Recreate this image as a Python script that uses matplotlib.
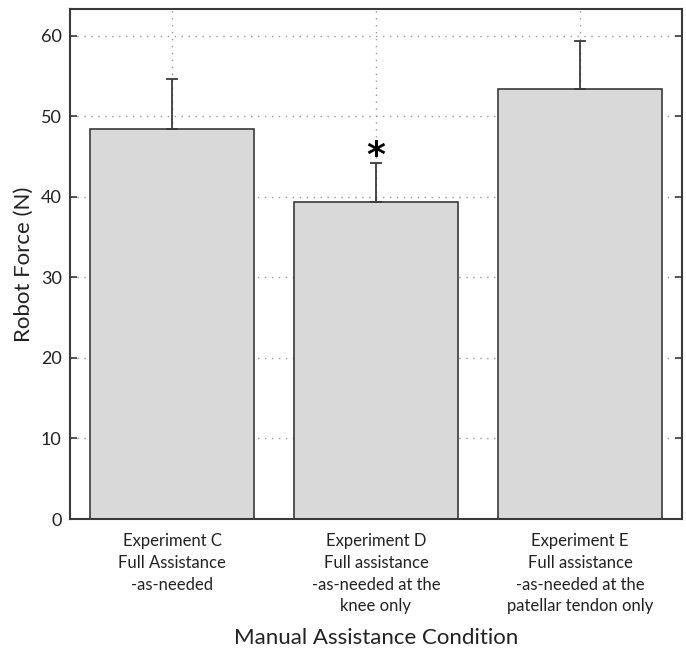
import numpy as np
import matplotlib.pyplot as plt

plt.rcParams['font.family'] = ['Lato', 'DejaVu Sans']

# data
conditions = ['Experiment C\nFull Assistance\n-as-needed',
              'Experiment D\nFull assistance\n-as-needed at the\nknee only',
              'Experiment E\nFull assistance\n-as-needed at the\npatellar tendon only']
force_mean = [48.4, 39.4, 53.4]
force_sd = [6.2, 4.8, 5.9]
significant = [False, True, False]

x = np.arange(1, len(conditions) + 1)
dark = '#3a3a3a'

fig = plt.figure(figsize=(6.86, 6.52), dpi=100)
ax = fig.add_axes([70 / 686, 1 - 519 / 652, 612 / 686, 510 / 652])

ax.bar(x, force_mean, width=0.8, color='#d9d9d9', edgecolor=dark, linewidth=1.2, zorder=2)
ax.errorbar(x, force_mean, yerr=[np.zeros(len(x)), force_sd], fmt='none',
            ecolor=dark, elinewidth=1.3, capsize=4, capthick=1.3, zorder=3)

for xi, m, s, sig in zip(x, force_mean, force_sd, significant):
    if sig:
        ax.text(xi, m + s - 1.3, '*', ha='center', va='bottom', fontsize=26,
                fontweight='bold', color='black', family='DejaVu Sans', zorder=4)

ax.set_xlim(0.5, 3.5)
ax.set_ylim(0, 63.3)
ax.set_xticks(x)
ax.set_xticklabels(conditions, fontsize=12, linespacing=1.45)
ax.set_yticks(np.arange(0, 61, 10))
ax.tick_params(axis='y', labelsize=13, direction='in', length=5, right=True,
               color=dark, width=1.2, labelcolor='#222222', pad=6)
ax.tick_params(axis='x', length=0, pad=10, labelcolor='#222222')
ax.grid(True, linestyle=(0, (1, 4)), color='#999999', linewidth=1.0, zorder=0)
ax.set_axisbelow(True)
for sp in ax.spines.values():
    sp.set_color(dark)
    sp.set_linewidth(1.5)

ax.set_ylabel('Robot Force (N)', fontsize=16, color='#222222', labelpad=5)
ax.set_xlabel('Manual Assistance Condition', fontsize=16, color='#222222', labelpad=10)

fig.savefig('out.png', dpi=100)
